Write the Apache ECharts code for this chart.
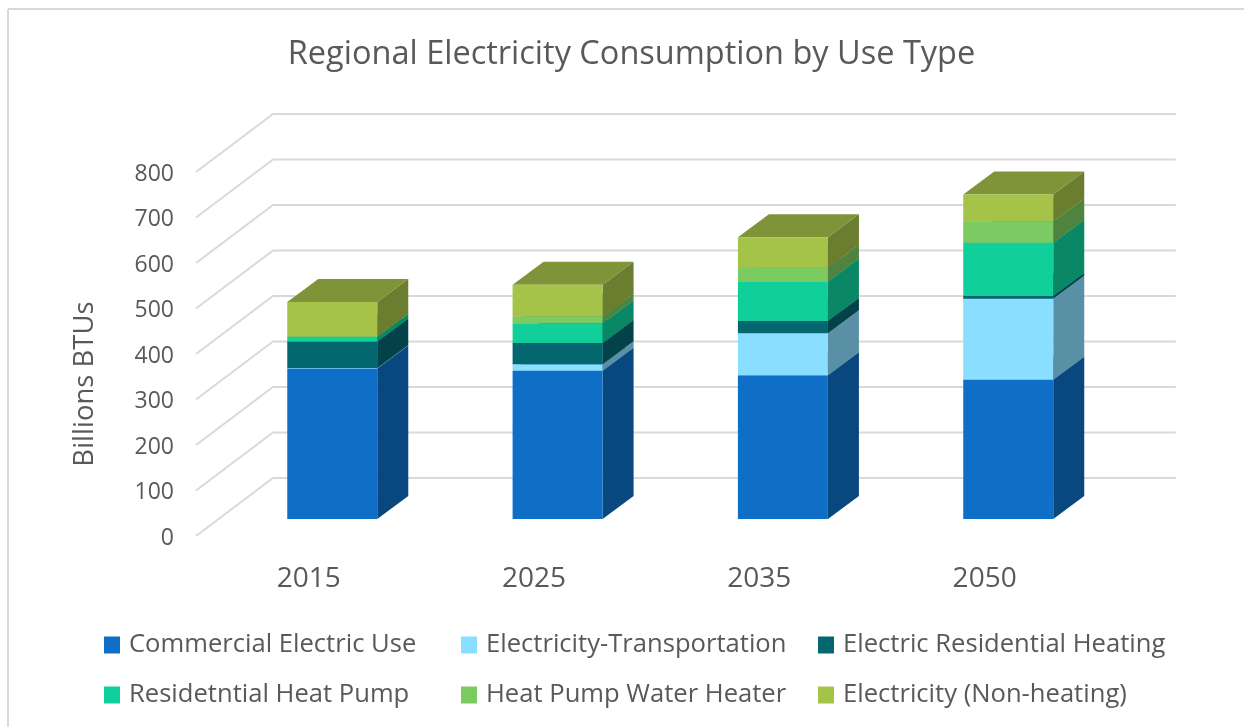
<!DOCTYPE html>
<html>
<head>
<meta charset="utf-8">
<title>Regional Electricity Consumption by Use Type</title>
<style>
html, body { margin: 0; padding: 0; background: #fff; }
#chart { width: 1244px; height: 727px; }
</style>
<script src="https://cdn.jsdelivr.net/npm/echarts@6/dist/echarts.min.js"></script>
</head>
<body>
<div id="chart"></div>
<script>
// data
var years = ['2015', '2025', '2035', '2050'];
var yTicks = [0, 100, 200, 300, 400, 500, 600, 700, 800];

var commercial = [331, 326, 316, 306];
var transportation = [1, 14, 92, 178];
var resHeating = [58, 47, 27, 6];
var heatPump = [10, 43, 87, 117];
var waterHeater = [1, 15, 30, 47];
var nonHeating = [76, 70, 67, 59];

var useTypes = [
    { name: 'Commercial Electric Use', values: commercial, front: '#0f6fc6', side: '#09477f', top: '#0c5ba3' },
    { name: 'Electricity-Transportation', values: transportation, front: '#8adeff', side: '#5a90a6', top: '#74bbd6' },
    { name: 'Electric Residential Heating', values: resHeating, front: '#04666f', side: '#034248', top: '#03555d' },
    { name: 'Residetntial Heat Pump', values: heatPump, front: '#10cf9b', side: '#0a8764', top: '#0dae82' },
    { name: 'Heat Pump Water Heater', values: waterHeater, front: '#7cca62', side: '#508340', top: '#68aa52' },
    { name: 'Electricity (Non-heating)', values: nonHeating, front: '#a5c249', side: '#6b7e2f', top: '#7f9338' }
];

var textColor = '#595959';
var fontName = '"Open Sans", sans-serif';
var chart = echarts.init(document.getElementById('chart'));

// box offsets from the back wall, in pixels
var FRONT_DX = -53.4, FRONT_DY = 41;
var BACK_DX = -22.4, BACK_DY = 18;
var HALF_W = 45;

function renderBox(style) {
    return function (params, api) {
        var cat = api.value(0);
        var p0 = api.coord([cat, api.value(1)]);
        var p1 = api.coord([cat, api.value(2)]);
        var fl = p0[0] + FRONT_DX - HALF_W, fr = p0[0] + FRONT_DX + HALF_W;
        var bl = p0[0] + BACK_DX - HALF_W, br = p0[0] + BACK_DX + HALF_W;
        var fb = p0[1] + FRONT_DY, ft = p1[1] + FRONT_DY;
        var bb = p0[1] + BACK_DY, bt = p1[1] + BACK_DY;
        return {
            type: 'group',
            children: [
                { type: 'polygon', shape: { points: [[fr, fb], [br, bb], [br, bt], [fr, ft]] }, style: { fill: style.side } },
                { type: 'polygon', shape: { points: [[fl, ft], [bl, bt], [br, bt], [fr, ft]] }, style: { fill: style.top } },
                { type: 'polygon', shape: { points: [[fl, fb], [fr, fb], [fr, ft], [fl, ft]] }, style: { fill: style.front } }
            ]
        };
    };
}

// running totals for the stack
var running = years.map(function () { return 0; });
var series = useTypes.map(function (t) {
    var rows = t.values.map(function (v, i) {
        var row = [i, running[i], running[i] + v];
        running[i] += v;
        return row;
    });
    return {
        type: 'custom',
        name: t.name,
        xAxisIndex: 0,
        yAxisIndex: 0,
        z: 5,
        silent: true,
        itemStyle: { color: t.front },
        encode: { x: 0, y: [1, 2] },
        renderItem: renderBox(t),
        data: rows
    };
});

// wall lines: front of the side wall -> back corner -> along the back wall
series.push({
    type: 'custom',
    name: 'wall',
    xAxisIndex: 0,
    yAxisIndex: 0,
    z: 1,
    silent: true,
    encode: { y: 0 },
    renderItem: function (params, api) {
        var p = api.coord([0, api.value(0)]);
        var x = params.coordSys.x;
        return {
            type: 'polyline',
            shape: { points: [[x - 77, p[1] + 58], [x, p[1]], [x + params.coordSys.width + 1.5, p[1]]] },
            style: { fill: 'none', stroke: '#d9d9d9', lineWidth: 2 }
        };
    },
    data: yTicks.map(function (v) { return [v]; })
});

function legendCol(left, a, b) {
    return {
        orient: 'vertical',
        left: left,
        top: 632,
        padding: 0,
        itemWidth: 16,
        itemHeight: 17,
        itemGap: 24,
        icon: 'rect',
        selectedMode: false,
        data: [useTypes[a].name, useTypes[b].name],
        textStyle: { color: textColor, fontFamily: fontName, fontSize: 25.6, padding: [0, 0, 0, 4] }
    };
}

var option = {
    backgroundColor: '#fff',
    animation: false,
    title: {
        text: 'Regional Electricity Consumption by Use Type',
        left: 626.5,
        top: 33,
        textAlign: 'center',
        textStyle: { color: textColor, fontFamily: fontName, fontWeight: 'normal', fontSize: 32.5 }
    },
    legend: [legendCol(104, 0, 3), legendCol(461, 1, 4), legendCol(818, 2, 5)],
    grid: [
        { left: 273, top: 114, width: 901.3, height: 364 },
        { left: 196, top: 174, width: 901.3, height: 364 }
    ],
    xAxis: [
        { type: 'category', gridIndex: 0, data: years, axisLine: { show: false }, axisTick: { show: false }, axisLabel: { show: false } },
        {
            type: 'category', gridIndex: 1, data: years,
            axisLine: { show: false }, axisTick: { show: false },
            axisLabel: { color: textColor, fontFamily: fontName, fontSize: 28, margin: 27 }
        }
    ],
    yAxis: [
        {
            type: 'value', gridIndex: 0, min: 0, max: 800, interval: 100,
            axisLine: { show: false }, axisTick: { show: false }, axisLabel: { show: false },
            splitLine: { show: false }
        },
        {
            type: 'value', gridIndex: 1, min: 0, max: 800, interval: 100,
            name: 'Billions BTUs',
            nameLocation: 'middle',
            nameGap: 97,
            nameTextStyle: { color: textColor, fontFamily: fontName, fontSize: 27.5, padding: [0, 56, 0, 0] },
            axisLine: { show: false }, axisTick: { show: false },
            splitLine: { show: false },
            axisLabel: { color: textColor, fontFamily: fontName, fontSize: 23, margin: 22 }
        }
    ],
    // only the top and left edges of the chart frame are inside the picture
    graphic: [
        { type: 'line', shape: { x1: 8, y1: 9, x2: 1244, y2: 9 }, style: { stroke: '#d9d9d9', lineWidth: 2 }, silent: true },
        { type: 'line', shape: { x1: 8, y1: 9, x2: 8, y2: 727 }, style: { stroke: '#d9d9d9', lineWidth: 2 }, silent: true }
    ],
    series: series
};

chart.setOption(option);

window.onresize = function () {
    chart.resize();
};
</script>
</body>
</html>
